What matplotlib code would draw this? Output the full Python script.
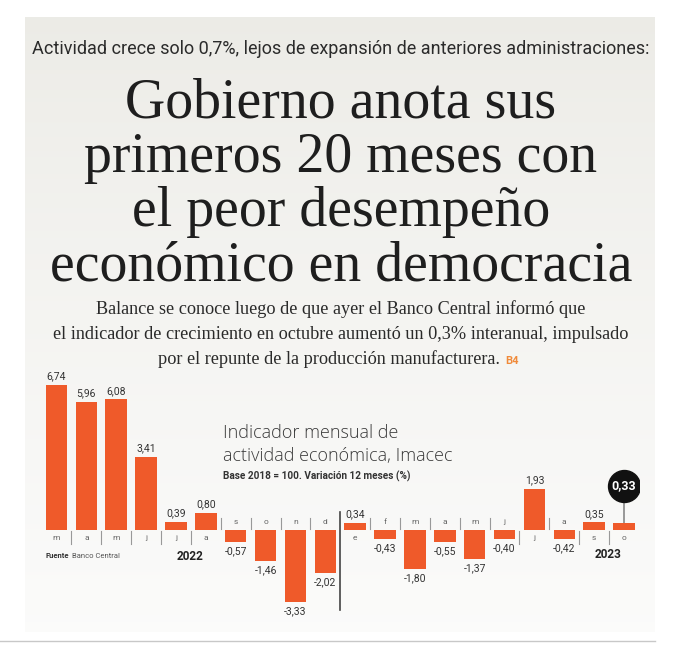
import matplotlib
matplotlib.use('Agg')
import matplotlib.pyplot as plt
import numpy as np

# Imacec, variación 12 meses (%)
months = ['m', 'a', 'm', 'j', 'j', 'a', 's', 'o', 'n', 'd',
          'e', 'f', 'm', 'a', 'm', 'j', 'j', 'a', 's', 'o']
values = [6.74, 5.96, 6.08, 3.41, 0.39, 0.80, -0.57, -1.46, -3.33, -2.02,
          0.34, -0.43, -1.80, -0.55, -1.37, -0.40, 1.93, -0.42, 0.35, 0.33]
labels = ['6,74', '5,96', '6,08', '3,41', '0,39', '0,80', '-0,57', '-1,46', '-3,33', '-2,02',
          '0,34', '-0,43', '-1,80', '-0,55', '-1,37', '-0,40', '1,93', '-0,42', '0,35', '']
years = ['2022', '2023']

kicker = 'Actividad crece solo 0,7%, lejos de expansión de anteriores administraciones:'
headline = ['Gobierno anota sus', 'primeros 20 meses con',
            'el peor desempeño', 'económico en democracia']
deck = ['Balance se conoce luego de que ayer el Banco Central informó que',
        'el indicador de crecimiento en octubre aumentó un 0,3% interanual, impulsado',
        'por el repunte de la producción manufacturera.']

W, H = 679, 655
ORANGE = '#ef5a2a'
DARK = '#2b2b2b'
COND = ['Roboto', 'DejaVu Sans']
SERIF = ['Liberation Serif', 'DejaVu Serif']

fig = plt.figure(figsize=(W / 100, H / 100), dpi=100)
fig.patch.set_facecolor('white')
renderer = fig.canvas.get_renderer()


def fy(ypx):
    return 1 - ypx / H


def fx(xpx):
    return xpx / W


def fit(t, width_px):
    """Scale a text's font size so its width matches width_px."""
    w = t.get_window_extent(renderer).width
    t.set_fontsize(t.get_fontsize() * width_px / w)
    return t


# panel background with soft gradient
bg = fig.add_axes([fx(25), fy(632), fx(655) - fx(25), fy(17) - fy(632)])
grad = np.linspace(0, 1, 256).reshape(-1, 1)
top = np.array([0.925, 0.922, 0.902])
bot = np.array([0.985, 0.985, 0.982])
img = top + (bot - top) * grad[..., None] ** 0.8
bg.imshow(img, aspect='auto', extent=[0, 1, 1, 0])
bg.axis('off')

# bottom rule
fig.add_artist(plt.Line2D([0, fx(655)], [fy(641), fy(641)], color='#c8c8c8', lw=1))

# kicker
t = fig.text(fx(341), fy(49), kicker, ha='center', va='center',
             family=COND, fontsize=13, color=DARK)
fit(t, 618)

# headline
hl = []
for i, line in enumerate(headline):
    hl.append(fig.text(fx(341), fy(117 + 54.5 * i), line, ha='center', va='baseline',
                       family=SERIF, fontsize=36, color='#1e1e1e'))
w = hl[3].get_window_extent(renderer).width
for t in hl:
    t.set_fontsize(36 * 582 / w)

# deck
dk = []
for i, line in enumerate(deck):
    dk.append(fig.text(fx(341), fy(314 + 25 * i), line, ha='center', va='baseline',
                       family=SERIF, fontsize=12, color='#2a2a2a'))
w = dk[1].get_window_extent(renderer).width
for t in dk:
    t.set_fontsize(12 * 576 / w)
# shift third line left to make room for the orange "B4"
ext = dk[2].get_window_extent(renderer)
dk[2].set_x(fx(341 - 12))
fig.text(fx(341 - 12) + (ext.width / 2 + 5) / W, fy(364), 'B4', ha='left', va='baseline',
         family=COND, fontsize=8, fontweight='bold', color='#f08a3a')

# chart axes: bar spacing ~29.87 px, zero at y=530, 21.5 px per unit
step = 29.87
x0 = 56.5 - step / 2
ylo, yhi = -4.6, 7.6
scale = 21.5
ax = fig.add_axes([fx(x0), fy(530 + (-ylo) * scale), step * 20 / W, (yhi - ylo) * scale / H])
ax.set_xlim(-0.5, 19.5)
ax.set_ylim(ylo, yhi)
ax.axis('off')

x = np.arange(len(values))
ax.bar(x, values, width=0.72, color=ORANGE, zorder=2)

for i, (v, lab, m) in enumerate(zip(values, labels, months)):
    if lab:
        if v >= 0:
            ax.annotate(lab, (i, v), xytext=(0, 2.5), textcoords='offset points',
                        ha='center', va='bottom', family=COND, fontsize=7.5, color='#333333')
        else:
            ax.annotate(lab, (i, v), xytext=(0, -3), textcoords='offset points',
                        ha='center', va='top', family=COND, fontsize=7.5, color='#333333')
    side = -1 if v >= 0 else 1
    ax.annotate(m, (i, 0), xytext=(0, side * 6), textcoords='offset points',
                ha='center', va='center', family=COND, fontsize=6, color='#666666')
    if i > 0 and i != 10:
        y1, y2 = (0.05, 0.55) if side > 0 else (-0.05, -0.65)
        ax.plot([i - 0.5, i - 0.5], [y1, y2], color='#999999', lw=0.8, zorder=1)

# year divider
ax.plot([9.5, 9.5], [0.84, -3.72], color='#444444', lw=1.2)

# highlighted last value
ax.plot([19, 19], [0.33, 1.6], color='#888888', lw=1.2, zorder=1)
ax.plot(19, 2.05, 'o', markersize=23, color='#111111', zorder=3)
ax.text(19, 2.05, '0,33', ha='center', va='center', family=COND, fontsize=9,
        fontweight='bold', color='white', zorder=4)

# year labels
fig.text(fx(190), fy(556), years[0], ha='center', va='center', family=COND,
         fontsize=8.5, fontweight='bold', color='#222222')
fig.text(fx(608), fy(554), years[1], ha='center', va='center', family=COND,
         fontsize=8.5, fontweight='bold', color='#222222')

# source
s = fig.text(fx(46), fy(556), 'Fuente', ha='left', va='center', family=COND,
             fontsize=5.5, fontweight='bold', color='#333333')
sw = s.get_window_extent(renderer).width
fig.text(fx(46) + (sw + 3) / W, fy(556), 'Banco Central', ha='left', va='center',
         family=COND, fontsize=5.5, color='#555555')

# chart title
t1 = fig.text(fx(223), fy(438), 'Indicador mensual de', ha='left', va='baseline',
              family=['Open Sans', 'DejaVu Sans'], fontweight='light', fontsize=14, color='#3a3a3a')
t2 = fig.text(fx(223), fy(461), 'actividad económica, Imacec', ha='left', va='baseline',
              family=['Open Sans', 'DejaVu Sans'], fontweight='light', fontsize=14, color='#3a3a3a')
w = t2.get_window_extent(renderer).width
for t in (t1, t2):
    t.set_fontsize(14 * 232 / w)
t3 = fig.text(fx(223), fy(476), 'Base 2018 = 100. Variación 12 meses (%)', ha='left',
              va='center', family=COND, fontweight='bold', fontsize=6, color='#333333')
fit(t3, 187)

fig.savefig('out.png', dpi=100)
